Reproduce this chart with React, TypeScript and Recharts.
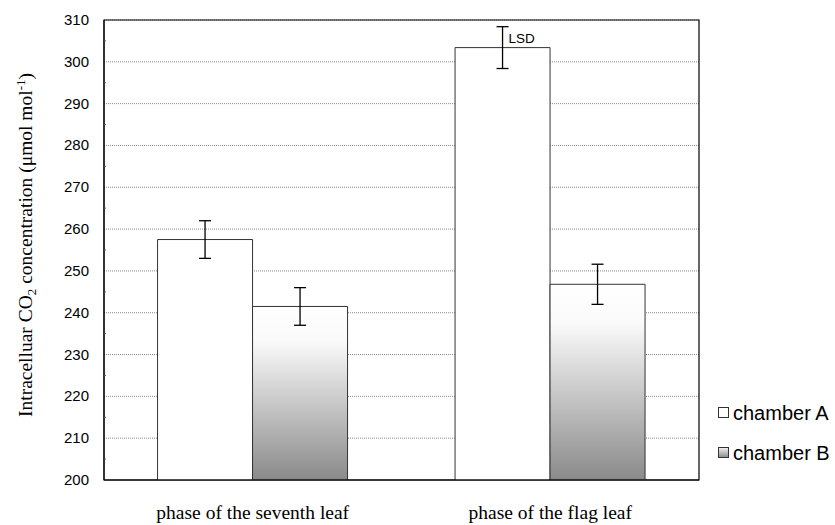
import {
  Bar,
  BarChart,
  CartesianGrid,
  ErrorBar,
  LabelList,
  ReferenceArea,
  XAxis,
  YAxis
} from "recharts";

const phases = ["phase of the seventh leaf", "phase of the flag leaf"];
const chamberA = [257.5, 303.4];
const chamberB = [241.5, 246.8];
const errA = [4.5, 5];
const errB = [4.5, 4.8];
const lsdNote = ["", "LSD"];
const seriesNames = ["chamber A", "chamber B"];
const yTicks = [200, 205, 210, 215, 220, 225, 230, 235, 240, 245, 250, 255, 260, 265, 270, 275, 280, 285, 290, 295, 300, 305, 310];
const gridTicks = [200, 210, 220, 230, 240, 250, 260, 270, 280, 290, 300, 310];

const data = phases.map((phase, i) => ({
  phase,
  a: chamberA[i],
  b: chamberB[i],
  errA: errA[i],
  errB: errB[i],
  lsd: lsdNote[i]
}));

const sans = "Arial, 'Liberation Sans', sans-serif";
const serif = "'Times New Roman', 'Liberation Serif', serif";

function YTick(props: any) {
  const { x, y, payload } = props;
  if (payload.value % 10 !== 0) {
    return <line x1={x + 15} x2={x + 17} y1={y} y2={y} stroke="#555" />;
  }
  return (
    <text x={x} y={y} dy={5} textAnchor="end" fontSize={15} fontFamily={sans} fill="#000">
      {payload.value}
    </text>
  );
}

function YLabel() {
  return (
    <text
      transform="translate(32 245) rotate(-90)"
      textAnchor="middle"
      fontSize={19.5}
      fontFamily={serif}
      fill="#000"
    >
      Intracelluar CO
      <tspan fontSize={13} dy={4}>2</tspan>
      <tspan dy={-4}> concentration (μmol mol</tspan>
      <tspan fontSize={13} dy={-7}>-1</tspan>
      <tspan dy={7}>)</tspan>
    </text>
  );
}

function LsdLabel(props: any) {
  const { x, y, width, value } = props;
  if (!value) return null;
  return (
    <text x={x + width / 2 + 6} y={y - 5} fontSize={13.5} fontFamily={sans} fill="#000">
      {value}
    </text>
  );
}

function LegendBox() {
  const fills = ["#fff", "url(#legendB)"];
  return (
    <div
      style={{
        position: "absolute",
        left: 717,
        top: 393,
        fontFamily: sans,
        fontSize: 20,
        color: "#000"
      }}
    >
      {seriesNames.map((name, i) => (
        <div key={name} style={{ display: "flex", alignItems: "center", height: 40 }}>
          <svg width={13} height={12} style={{ marginRight: 3 }}>
            <defs>
              <linearGradient id="legendB" x1="0" y1="0" x2="0" y2="1">
                <stop offset="0%" stopColor="#f4f4f4" />
                <stop offset="100%" stopColor="#8a8a8a" />
              </linearGradient>
            </defs>
            <rect x={1.5} y={0.5} width={10} height={10} fill={fills[i]} stroke="#333" />
          </svg>
          <span>{name}</span>
        </div>
      ))}
    </div>
  );
}

export default function App() {
  return (
    <div style={{ position: "absolute", left: 0, top: 0, width: 835, height: 525, background: "#fff" }}>
      <BarChart
        width={835}
        height={525}
        data={data}
        margin={{ top: 20, right: 136, bottom: 0, left: 0 }}
        barCategoryGap="18%"
        barGap={0}
      >
        <defs>
          <linearGradient id="gradB" x1="0" y1="0" x2="0" y2="1">
            <stop offset="0%" stopColor="#ffffff" />
            <stop offset="20%" stopColor="#fafafa" />
            <stop offset="100%" stopColor="#8a8a8a" />
          </linearGradient>
        </defs>
        <CartesianGrid
          vertical={false}
          horizontalValues={gridTicks}
          stroke="#8a8a8a"
          strokeDasharray="1 1"
        />
        <XAxis
          dataKey="phase"
          height={45}
          tickLine={false}
          axisLine={{ stroke: "#000" }}
          tick={{ fontSize: 19.5, fontFamily: serif, fill: "#000" }}
          tickMargin={19}
          interval={0}
        />
        <YAxis
          width={104}
          domain={[200, 310]}
          ticks={yTicks}
          interval={0}
          allowDataOverflow
          tickLine={false}
          tickSize={0}
          tickMargin={15}
          axisLine={{ stroke: "#000" }}
          tick={<YTick />}
          label={<YLabel />}
        />
        <ReferenceArea y1={200} y2={310} fill="none" stroke="#000" strokeWidth={1.2} ifOverflow="extendDomain" />
        <Bar dataKey="a" name={seriesNames[0]} fill="#ffffff" stroke="#333" strokeWidth={1} isAnimationActive={false}>
          <ErrorBar dataKey="errA" width={6} stroke="#000" strokeWidth={1.3} />
          <LabelList dataKey="lsd" content={<LsdLabel />} />
        </Bar>
        <Bar dataKey="b" name={seriesNames[1]} fill="url(#gradB)" stroke="#333" strokeWidth={1} isAnimationActive={false}>
          <ErrorBar dataKey="errB" width={6} stroke="#000" strokeWidth={1.3} />
        </Bar>
      </BarChart>
      <LegendBox />
    </div>
  );
}
